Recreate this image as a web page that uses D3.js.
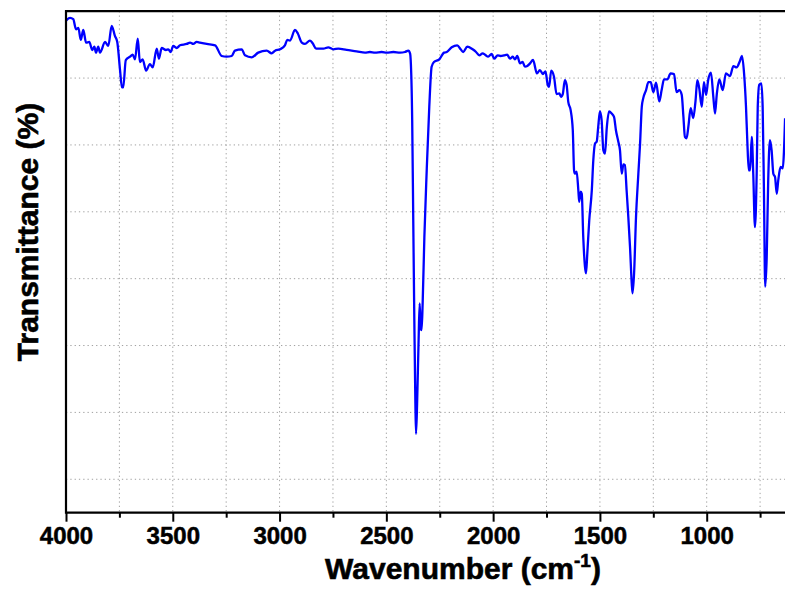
<!DOCTYPE html>
<html>
<head>
<meta charset="utf-8">
<script src="https://cdn.jsdelivr.net/npm/d3@7/dist/d3.min.js"></script>
<style>
  html, body { margin: 0; padding: 0; background: #fff; }
  svg { display: block; }
  text { font-family: "Liberation Sans", Arial, sans-serif; font-weight: bold; fill: #000; }
</style>
</head>
<body>
<svg id="chart" width="785" height="590"></svg>
<script>
// FTIR spectrum: wavenumber (cm-1) and transmittance (%)
const wavenumber = [
  4000, 3981, 3966, 3953, 3942, 3931, 3919, 3906, 3891, 3877, 3867, 3860, 3849, 3841, 3817, 3802,
  3786, 3771, 3760, 3747, 3738, 3732, 3720, 3700, 3688, 3677, 3664, 3654, 3641, 3625, 3607, 3594,
  3575, 3565, 3552, 3532, 3521, 3510, 3498, 3482, 3466, 3435, 3419, 3404, 3388, 3373, 3341, 3302,
  3271, 3248, 3224, 3209, 3177, 3162, 3130, 3100, 3060, 3037, 3021, 2998, 2975, 2964, 2951, 2928,
  2915, 2896, 2881, 2858, 2845, 2829, 2795, 2772, 2748, 2725, 2686, 2639, 2600, 2577, 2553, 2522,
  2498, 2467, 2436, 2413, 2397, 2389, 2386, 2379, 2374, 2369, 2364, 2361, 2356, 2349, 2344, 2339,
  2335, 2330, 2322, 2311, 2299, 2288, 2277, 2252, 2230, 2217, 2194, 2168, 2152, 2140, 2121, 2096,
  2080, 2065, 2049, 2038, 2023, 2007, 1995, 1979, 1965, 1949, 1934, 1921, 1908, 1898, 1887, 1874,
  1862, 1851, 1840, 1827, 1813, 1795, 1781, 1767, 1755, 1745, 1738, 1728, 1715, 1703, 1690, 1682,
  1674, 1664, 1656, 1648, 1637, 1627, 1621, 1617, 1609, 1601, 1597, 1590, 1585, 1578, 1570, 1565,
  1559, 1550, 1538, 1531, 1523, 1515, 1508, 1500, 1492, 1484, 1476, 1468, 1457, 1445, 1434, 1425,
  1414, 1406, 1398, 1390, 1383, 1375, 1367, 1359, 1351, 1347, 1340, 1331, 1320, 1312, 1304, 1297,
  1284, 1273, 1262, 1250, 1237, 1222, 1211, 1200, 1184, 1169, 1153, 1141, 1128, 1117, 1109, 1102,
  1094, 1086, 1075, 1063, 1052, 1044, 1035, 1023, 1013, 1003, 993, 980, 969, 961, 953, 941,
  925, 910, 891, 875, 860, 844, 835, 825, 816, 810, 803, 797, 789, 782, 774, 766,
  761, 754, 744, 738, 732, 726, 719, 712, 704, 696, 688, 680, 672, 665, 654, 644,
  633
];
const transmittance = [
  98.6, 99.0, 98.8, 97.3, 97.5, 95.7, 97.2, 95.3, 95.4, 94.2, 94.7, 93.8, 94.7, 93.8, 95.4, 94.8,
  97.8, 96.3, 95.4, 91.2, 88.6, 88.6, 92.7, 93.2, 93.5, 92.8, 95.9, 92.4, 92.8, 91.1, 92.1, 91.6,
  94.4, 92.9, 94.5, 94.2, 94.3, 93.9, 94.8, 94.5, 94.9, 95.1, 95.3, 95.1, 95.4, 95.3, 95.1, 94.9,
  93.3, 93.2, 93.3, 94.1, 94.3, 93.4, 93.1, 93.8, 94.1, 93.7, 94.1, 94.3, 94.9, 95.7, 95.6, 97.2,
  96.7, 95.3, 95.1, 95.6, 95.2, 94.4, 94.4, 94.6, 94.3, 94.4, 94.2, 94.0, 93.8, 93.9, 93.8, 93.9,
  93.8, 93.9, 93.8, 93.9, 94.1, 93.7, 92.7, 83.7, 68.7, 53.8, 41.3, 36.8, 41.3, 50.8, 56.3, 52.5,
  52.3, 56.3, 66.2, 76.2, 85.7, 91.7, 92.4, 92.8, 93.8, 93.9, 94.6, 94.9, 94.3, 93.9, 94.7, 94.3,
  93.9, 93.4, 93.7, 93.5, 93.2, 93.6, 92.9, 93.4, 93.3, 93.4, 93.5, 92.9, 93.2, 92.8, 93.3, 92.2,
  92.4, 91.7, 91.8, 92.2, 92.7, 90.7, 91.2, 90.6, 91.0, 89.1, 88.7, 91.1, 90.2, 87.6, 87.7, 87.2,
  87.6, 89.7, 89.0, 86.4, 85.2, 82.2, 76.2, 75.7, 76.0, 73.2, 71.5, 73.0, 72.7, 66.2, 61.8, 60.8,
  63.8, 68.7, 73.2, 77.7, 80.2, 80.5, 82.7, 85.0, 83.7, 79.2, 78.7, 82.5, 85.0, 84.7, 84.2, 82.2,
  80.5, 79.2, 75.7, 77.1, 77.0, 73.2, 69.2, 64.7, 59.3, 57.8, 60.8, 69.2, 75.7, 80.2, 85.7, 87.0,
  88.2, 89.4, 89.4, 87.9, 89.3, 86.5, 88.2, 89.8, 89.8, 90.7, 90.6, 87.9, 88.2, 87.5, 84.2, 81.2,
  81.0, 82.7, 85.5, 84.0, 86.7, 89.7, 88.5, 85.7, 89.4, 87.5, 89.7, 90.8, 87.2, 84.7, 87.5, 89.8,
  88.2, 90.7, 90.3, 91.8, 91.6, 92.6, 93.3, 90.7, 85.7, 80.7, 76.2, 76.2, 81.2, 75.7, 67.7, 75.7,
  85.7, 89.0, 89.2, 85.7, 73.2, 58.8, 63.2, 74.7, 80.7, 79.2, 75.7, 75.2, 72.7, 74.7, 76.7, 76.5,
  84.0
];

// Axis ticks
const majorTicks = [4000, 3500, 3000, 2500, 2000, 1500, 1000];
const minorTicks = [3750, 3250, 2750, 2250, 1750, 1250, 750];
const gridX = [3750, 3500, 3250, 3000, 2750, 2500, 2250, 2000, 1750, 1500, 1250, 1000, 750];
const gridY = [30, 40, 50, 60, 70, 80, 90];

const svg = d3.select("#chart");
const plotLeft = 66, plotRight = 785, plotTop = 11.2, plotBottom = 512.7;

const x = d3.scaleLinear().domain([4000, 1000]).range([plotLeft, 706.7]);
const y = d3.scaleLinear().domain([25, 100]).range([plotBottom, plotTop]);

svg.append("defs").append("clipPath").attr("id", "plotClip")
  .append("rect").attr("x", plotLeft).attr("y", 0)
  .attr("width", plotRight - plotLeft).attr("height", plotBottom);

// dotted grid
const grid = svg.append("g").attr("stroke", "#a0a0a0").attr("stroke-width", 1)
  .attr("stroke-dasharray", "1.3,3");
grid.selectAll("line.gx").data(gridX).join("line").attr("class", "gx")
  .attr("x1", d => x(d)).attr("x2", d => x(d)).attr("y1", plotTop).attr("y2", plotBottom);
grid.selectAll("line.gy").data(gridY).join("line").attr("class", "gy")
  .attr("x1", plotLeft).attr("x2", plotRight).attr("y1", d => y(d)).attr("y2", d => y(d));

// spectrum line
const pts = wavenumber.map((w, i) => [w, transmittance[i]]);
const line = d3.line().x(d => x(d[0])).y(d => y(d[1])).curve(d3.curveMonotoneX);
svg.append("path").datum(pts)
  .attr("clip-path", "url(#plotClip)")
  .attr("fill", "none").attr("stroke", "#0000ff").attr("stroke-width", 2.3)
  .attr("stroke-linejoin", "round").attr("d", line);

// bottom axis: major ticks with labels, minor ticks without
const xMajor = d3.axisBottom(x).tickValues(majorTicks).tickSize(9).tickPadding(5)
  .tickSizeOuter(0).tickFormat(d3.format("d"));
const gMajor = svg.append("g").attr("transform", `translate(0,${plotBottom})`).call(xMajor);
gMajor.select(".domain").remove();
gMajor.selectAll("line").attr("stroke", "#000").attr("stroke-width", 2);
gMajor.selectAll("text").attr("font-size", 24).attr("font-family", "Liberation Sans, Arial, sans-serif")
  .attr("font-weight", "bold").attr("fill", "#000")
  .attr("stroke", "#000").attr("stroke-width", 0.5);

const xMinor = d3.axisBottom(x).tickValues(minorTicks).tickSize(5).tickSizeOuter(0).tickFormat("");
const gMinor = svg.append("g").attr("transform", `translate(0,${plotBottom})`).call(xMinor);
gMinor.select(".domain").remove();
gMinor.selectAll("line").attr("stroke", "#000").attr("stroke-width", 2);

// frame: left, bottom and top edges
const frame = svg.append("g").attr("stroke", "#000").attr("stroke-width", 2.2);
frame.append("line").attr("x1", plotLeft).attr("x2", plotRight).attr("y1", plotBottom).attr("y2", plotBottom);
frame.append("line").attr("x1", plotLeft).attr("x2", plotLeft).attr("y1", plotTop - 1).attr("y2", plotBottom + 1);
frame.append("line").attr("x1", plotLeft - 1).attr("x2", plotRight).attr("y1", plotTop).attr("y2", plotTop);

// axis titles
const xt = svg.append("text").attr("x", 463).attr("y", 579).attr("text-anchor", "middle")
  .attr("font-size", 30).attr("stroke", "#000").attr("stroke-width", 0.6);
xt.append("tspan").text("Wavenumber (cm");
xt.append("tspan").attr("font-size", 19).attr("dy", -12).text("-1");
xt.append("tspan").attr("dy", 12).text(")");

svg.append("text").attr("transform", "translate(38,232) rotate(-90)")
  .attr("text-anchor", "middle").attr("font-size", 30)
  .attr("stroke", "#000").attr("stroke-width", 0.6).text("Transmittance (%)");
</script>
</body>
</html>
